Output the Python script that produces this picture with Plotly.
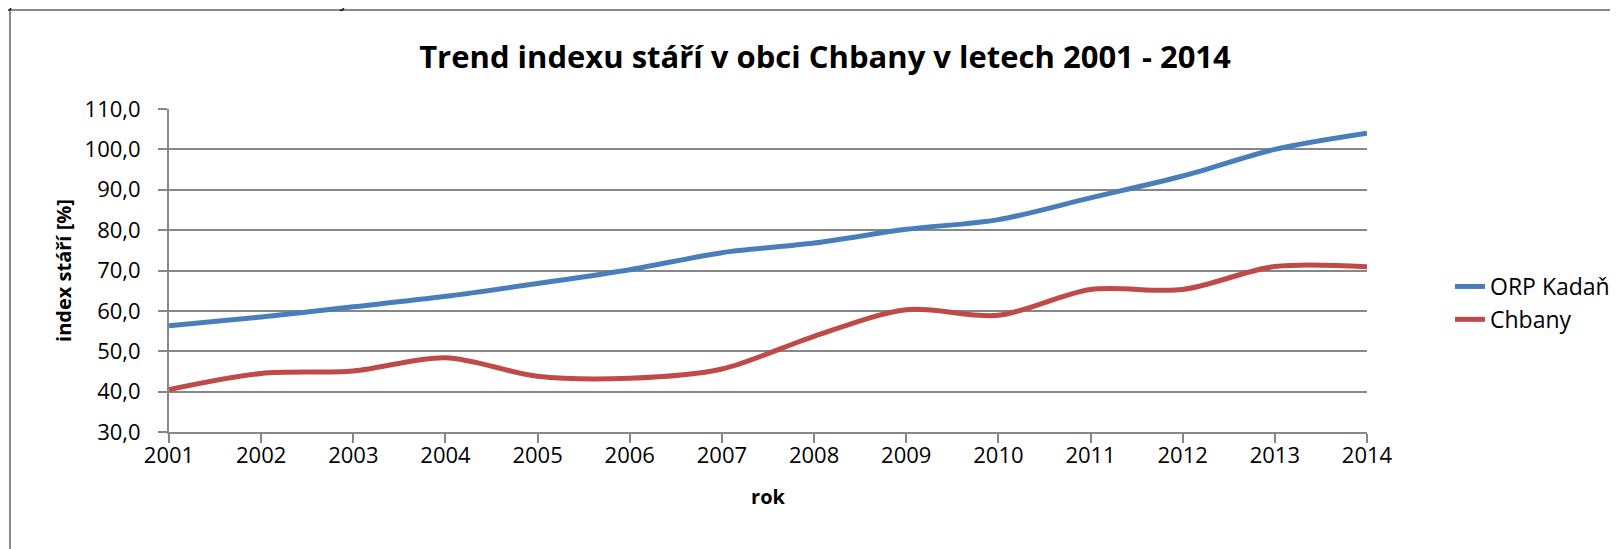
import plotly.graph_objects as go

years = list(range(2001, 2015))
orp_kadan = [56.3, 58.5, 61.0, 63.6, 66.8, 70.2, 74.4, 76.8, 80.2, 82.6, 88.0, 93.4, 100.0, 104.0]
chbany = [40.5, 44.5, 45.1, 48.4, 43.8, 43.3, 45.6, 53.7, 60.3, 58.9, 65.3, 65.3, 71.0, 70.9]
y_ticks = [30, 40, 50, 60, 70, 80, 90, 100, 110]
y_tick_text = ["30,0", "40,0", "50,0", "60,0", "70,0", "80,0", "90,0", "100,0", "110,0"]

# the page body has an 8px margin; figure pixels = page pixels - 8
OFF = 8
W, H = 1618 - OFF, 549 - OFF
ML, MR, MT, MB = 169 - OFF, W - (1367 - OFF), 109 - OFF, H - (432 - OFF)
PW, PH = W - ML - MR, H - MT - MB

FONT = "Open Sans, Lato, sans-serif"
GRID = "#878787"

def px_x(p):
    return (p - OFF - ML) / PW

def px_y(p):
    return 1 - (p - OFF - MT) / PH

fig = go.Figure()
fig.add_trace(go.Scatter(x=years, y=orp_kadan, name="ORP Kadaň", mode="lines",
                         line=dict(color="#4A7EBB", width=5, shape="spline", smoothing=0.9)))
fig.add_trace(go.Scatter(x=years, y=chbany, name="Chbany", mode="lines",
                         line=dict(color="#BE4B48", width=5, shape="spline", smoothing=0.9)))

fig.update_layout(
    width=W, height=H,
    margin=dict(l=ML, r=MR, t=MT, b=MB, pad=0, autoexpand=False),
    paper_bgcolor="white", plot_bgcolor="white",
    font=dict(family=FONT, size=22, color="black"),
    title=dict(text="<b>Trend indexu stáří v obci Chbany v letech 2001 - 2014</b>",
               x=(825 - OFF) / W, xref="container", xanchor="center",
               y=1 - (57 - OFF) / H, yref="container", yanchor="middle",
               font=dict(family=FONT, size=31, color="black")),
    showlegend=True,
    legend=dict(xref="container", x=(1450 - OFF) / W, xanchor="left",
                yref="container", y=1 - (303 - OFF) / H, yanchor="middle",
                font=dict(family=FONT, size=23, color="black"),
                bgcolor="rgba(0,0,0,0)", tracegroupgap=0, itemwidth=30),
    xaxis=dict(range=[2001, 2014], tickmode="array", tickvals=years,
               ticktext=[str(y) for y in years], showgrid=False, zeroline=False,
               showline=True, linecolor=GRID, linewidth=2,
               ticks="outside", ticklen=9, tickwidth=2, tickcolor=GRID,
               ticklabelstandoff=-6,
               tickfont=dict(family=FONT, size=22, color="black"),
               title=dict(text="<b>rok</b>", standoff=22,
                          font=dict(family=FONT, size=20, color="black"))),
    yaxis=dict(range=[30, 110], tickmode="array", tickvals=y_ticks, ticktext=y_tick_text,
               showgrid=True, gridcolor=GRID, gridwidth=2, zeroline=False,
               showline=True, linecolor=GRID, linewidth=2,
               ticks="outside", ticklen=9, tickwidth=2, tickcolor=GRID,
               ticklabelstandoff=13,
               tickfont=dict(family=FONT, size=22, color="black"),
               title=dict(text="<b>index stáří [%]</b>", standoff=8,
                          font=dict(family=FONT, size=20, color="black"))),
)

# chart frame (extends beyond the right and bottom edges of the page)
fig.add_shape(type="rect", xref="paper", yref="paper",
              x0=px_x(10), x1=px_x(1640), y0=px_y(570), y1=px_y(10),
              line=dict(color="#8a8a8a", width=2), fillcolor="rgba(0,0,0,0)", layer="below")

# caption above the chart, clipped by the top of the page
fig.add_annotation(text="graf. č. 4 trend indexu stáří v obci Chbany v letech 2001-2014",
                   xref="paper", yref="paper", x=px_x(0), xanchor="left",
                   y=px_y(14), yanchor="bottom", showarrow=False,
                   font=dict(family=FONT, size=18, color="black"))

fig.write_html("out.html")
